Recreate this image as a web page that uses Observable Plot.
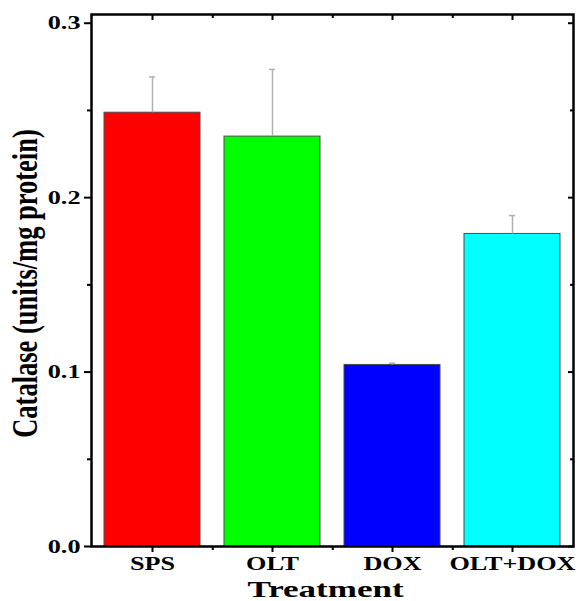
<!DOCTYPE html>
<html><head><meta charset="utf-8">
<script src="https://cdn.jsdelivr.net/npm/d3@7"></script>
<script src="https://cdn.jsdelivr.net/npm/@observablehq/plot@0.6"></script>
<style>body{margin:0;background:#fff}</style>
</head><body><div id="chart"></div>
<script>
const categories = ["SPS", "OLT", "DOX", "OLT+DOX"];
const means = [0.2487, 0.235, 0.1041, 0.1792];
const errors = [0.0205, 0.0385, 0.001, 0.0105];
const colors = ["#ff0000", "#00ff00", "#0000ff", "#00ffff"];
const yTicks = [0, 0.1, 0.2, 0.3];
const yMinorTicks = [0.05, 0.15, 0.25];
const yTitle = "Catalase (units/mg protein)";
const xTitle = "Treatment";

const data = categories.map((c, i) => ({cat: c, mean: means[i], err: errors[i]}));
const font = "'Liberation Serif','Times New Roman',serif";
const blank = () => "";

const chart = Plot.plot({
  width: 585, height: 601,
  marginLeft: 91, marginRight: 12, marginTop: 14, marginBottom: 55,
  style: {fontFamily: font, fontWeight: "bold", background: "#fff", color: "#000", fontSize: "19px"},
  x: {domain: categories, paddingInner: 0.2, paddingOuter: 0.1},
  y: {domain: [0, 0.305]},
  color: {domain: categories, range: colors},
  marks: [
    Plot.barY(data, {x: "cat", y: "mean", fill: "cat", stroke: "#4d4d4d", strokeWidth: 1}),
    Plot.ruleX(data, {x: "cat", y1: "mean", y2: d => d.mean + d.err, stroke: "#b0b0b0", strokeWidth: 1.5}),
    Plot.tickY(data, {x: "cat", y: d => d.mean + d.err, stroke: "#b0b0b0", strokeWidth: 1.5, insetLeft: 45, insetRight: 45}),
    Plot.frame({stroke: "#000", strokeWidth: 2.5}),
    Plot.axisY({ticks: yTicks, tickFormat: d3.format(".1f"), tickSize: 7, tickPadding: 4, strokeWidth: 2,
      label: yTitle, labelAnchor: "center", labelOffset: 80.5, labelArrow: "none"}),
    Plot.axisY({ticks: yMinorTicks, tickSize: 4, strokeWidth: 2, tickFormat: blank, label: null}),
    Plot.axisY({anchor: "right", ticks: yTicks, tickSize: -6, strokeWidth: 2, tickFormat: blank, label: null}),
    Plot.axisY({anchor: "right", ticks: yMinorTicks, tickSize: -4, strokeWidth: 2, tickFormat: blank, label: null}),
    Plot.axisX({ticks: categories, tickSize: 6, tickPadding: 4, strokeWidth: 2,
      label: xTitle, labelAnchor: "center", labelOffset: 50, labelArrow: "none"}),
    Plot.axisX({ticks: categories.slice(0, 3), dx: 60.25, tickSize: 4, strokeWidth: 2, tickFormat: blank, label: null}),
    Plot.axisX({anchor: "top", ticks: categories, tickSize: -5, strokeWidth: 2, tickFormat: blank, label: null}),
    Plot.axisX({anchor: "top", ticks: categories.slice(0, 3), dx: 60.25, tickSize: -3, strokeWidth: 2, tickFormat: blank, label: null})
  ]
});
document.getElementById("chart").appendChild(chart);

// horizontal stretch of the reference's lettering
function stretch(sel, sx, sy, fs, pre) {
  chart.querySelectorAll(sel).forEach(t => {
    if (fs) t.style.fontSize = fs;
    const tr = t.getAttribute("transform") || "";
    t.setAttribute("transform", `${pre || ""} ${tr} scale(${sx},${sy})`);
  });
}
stretch('g[aria-label="y-axis tick label"] text', 1.38, 1, "19px");
stretch('g[aria-label="x-axis tick label"] text', 1.38, 1, "19px");
stretch('g[aria-label="y-axis label"] text', 1, 1.38, "26.5px", "translate(0,3)");
stretch('g[aria-label="x-axis label"] text', 1.46, 1, "24px", "translate(-7,0)");
</script></body></html>
